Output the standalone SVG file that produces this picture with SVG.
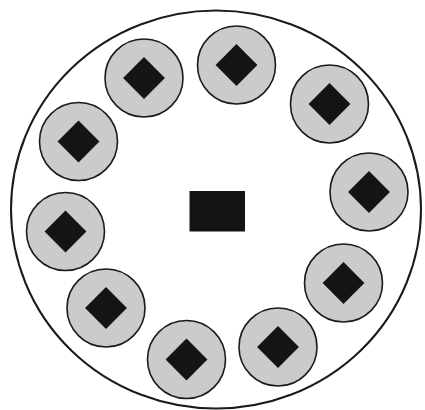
<svg xmlns="http://www.w3.org/2000/svg" width="425" height="410" viewBox="0 0 425 410">
<defs>
<style>
.outer{fill:#fff;stroke:#1a1a1a;stroke-width:2}
.pod{fill:#cbcbcb;stroke:#1a1a1a;stroke-width:1.6}
.dia{fill:#141414}
</style>
<g id="cell">
<circle class="pod" cx="0" cy="0" r="39"/>
<rect class="dia" x="-14.8" y="-14.8" width="29.6" height="29.6" transform="rotate(45)"/>
</g>
</defs>
<rect width="425" height="410" fill="#fff"/>
<g id="outer-ring"><ellipse class="outer" cx="216" cy="209.5" rx="205" ry="199"/></g>
<g id="center-block"><rect x="189.5" y="191" width="55.5" height="40.5" fill="#141414"/></g>
<g id="n1"><use href="#cell" x="144" y="78"/></g>
<g id="n2"><use href="#cell" x="236.5" y="65"/></g>
<g id="n3"><use href="#cell" x="329.5" y="104"/></g>
<g id="n4"><use href="#cell" x="369" y="192"/></g>
<g id="n5"><use href="#cell" x="343.5" y="283"/></g>
<g id="n6"><use href="#cell" x="278" y="347"/></g>
<g id="n7"><use href="#cell" x="186.5" y="359.5"/></g>
<g id="n8"><use href="#cell" x="106" y="308"/></g>
<g id="n9"><use href="#cell" x="65.5" y="231.5"/></g>
<g id="n10"><use href="#cell" x="78.5" y="141.5"/></g>
</svg>
